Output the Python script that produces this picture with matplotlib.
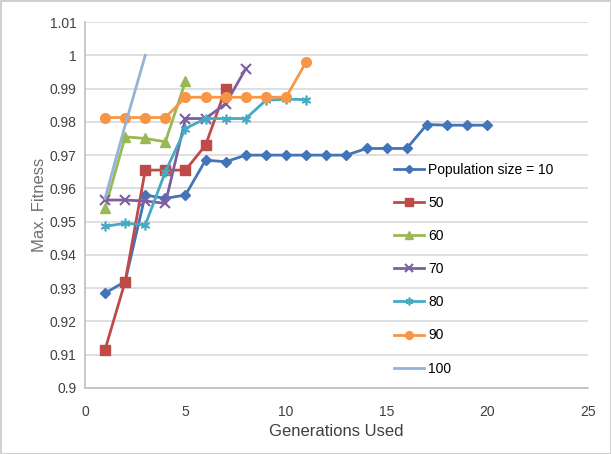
import matplotlib.pyplot as plt
from matplotlib.ticker import FuncFormatter, MultipleLocator

plt.rcParams['font.family'] = ['Liberation Sans', 'DejaVu Sans']

# Max. fitness per generation for each population size
gen_10 = [1, 2, 3, 4, 5, 6, 7, 8, 9, 10, 11, 12, 13, 14, 15, 16, 17, 18, 19, 20]
fit_10 = [0.9285, 0.932, 0.958, 0.957, 0.958, 0.9685, 0.968, 0.970, 0.970, 0.970,
          0.970, 0.970, 0.970, 0.972, 0.972, 0.972, 0.9792, 0.979, 0.979, 0.979]
gen_50 = [1, 2, 3, 4, 5, 6, 7]
fit_50 = [0.9115, 0.932, 0.9655, 0.9655, 0.9655, 0.973, 0.990]
gen_60 = [1, 2, 3, 4, 5]
fit_60 = [0.954, 0.9755, 0.975, 0.974, 0.9922]
gen_70 = [1, 2, 3, 4, 5, 6, 7, 8]
fit_70 = [0.9565, 0.9565, 0.9562, 0.9555, 0.981, 0.981, 0.9855, 0.996]
gen_80 = [1, 2, 3, 4, 5, 6, 7, 8, 9, 10, 11]
fit_80 = [0.9486, 0.9495, 0.949, 0.965, 0.978, 0.981, 0.981, 0.981, 0.9865, 0.9868, 0.9867]
gen_90 = [1, 2, 3, 4, 5, 6, 7, 8, 9, 10, 11]
fit_90 = [0.9813, 0.9813, 0.9813, 0.9813, 0.9874, 0.9874, 0.9874, 0.9874, 0.9874, 0.9874, 0.998]
gen_100 = [1, 2, 3]
fit_100 = [0.957, 0.979, 1.0]

labels = ['Population size = 10', '50', '60', '70', '80', '90', '100']

fig = plt.figure(figsize=(6.11, 4.54), dpi=100)
fig.patch.set_edgecolor('#d0d0d0')
fig.patch.set_linewidth(2)
ax = fig.add_axes([0.139, 0.1454, 0.823, 0.806])

lw = 2.0
ax.plot(gen_10, fit_10, color='#4474b8', lw=lw, marker='D', ms=5, label=labels[0])
ax.plot(gen_50, fit_50, color='#be4b48', lw=lw, marker='s', ms=7, label=labels[1])
ax.plot(gen_60, fit_60, color='#98b954', lw=lw, marker='^', ms=7, label=labels[2])
ax.plot(gen_70, fit_70, color='#7d5fa0', lw=lw, marker='x', ms=7, mew=1.5, label=labels[3])
ax.plot(gen_80, fit_80, color='#46aac5', lw=lw, marker=(6, 2, 0), ms=7, mew=1.2, label=labels[4])
ax.plot(gen_90, fit_90, color='#f79646', lw=lw, marker='o', ms=7, label=labels[5])
ax.plot(gen_100, fit_100, color='#95b3d7', lw=lw, label=labels[6])

ax.set_xlim(0, 25)
ax.set_ylim(0.9, 1.01)
ax.xaxis.set_major_locator(MultipleLocator(5))
ax.yaxis.set_major_locator(MultipleLocator(0.01))
ax.yaxis.set_major_formatter(FuncFormatter(lambda v, p: f"{round(v, 3):g}"))

ax.grid(axis='y', color='#d9d9d9', lw=1.2)
ax.set_axisbelow(True)
for s in ['top', 'right']:
    ax.spines[s].set_visible(False)
for s in ['left', 'bottom']:
    ax.spines[s].set_color('#bfbfbf')
    ax.spines[s].set_linewidth(1.2)
ax.tick_params(axis='both', length=0, labelsize=10, colors='#404040', pad=6)
ax.tick_params(axis='x', pad=12)

ax.set_xlabel('Generations Used', fontsize=12, color='#404040', labelpad=4)
ax.set_ylabel('Max. Fitness', fontsize=12, color='#707070', labelpad=2)

fig.legend(loc='upper left', bbox_to_anchor=(388 / 611, 1 - 157 / 454),
           frameon=False, fontsize=10, labelspacing=1.38, handlelength=2.2,
           handletextpad=0.3, borderaxespad=0, markerscale=0.8)

fig.savefig('out.png', dpi=100)
